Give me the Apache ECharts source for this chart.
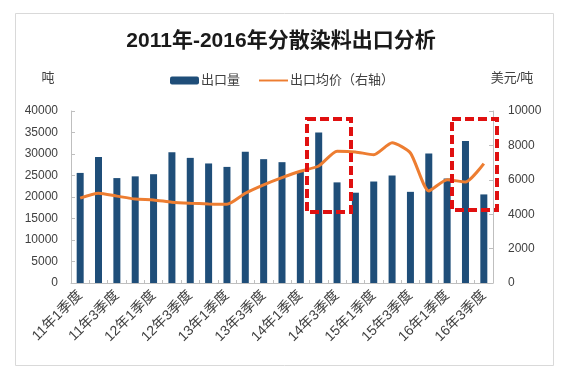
<!DOCTYPE html>
<html>
<head>
<meta charset="utf-8">
<script src="https://cdn.jsdelivr.net/npm/echarts@6/dist/echarts.min.js"></script>
<style>
html,body{margin:0;padding:0;background:#fff;}
#c{width:562px;height:372px;}
</style>
</head>
<body>
<div id="c"></div>
<script>
const categories = [
  '11年1季度','11年2季度','11年3季度','11年4季度',
  '12年1季度','12年2季度','12年3季度','12年4季度',
  '13年1季度','13年2季度','13年3季度','13年4季度',
  '14年1季度','14年2季度','14年3季度','14年4季度',
  '15年1季度','15年2季度','15年3季度','15年4季度',
  '16年1季度','16年2季度','16年3季度'
];
const exportVolume = [25600, 29300, 24400, 24800, 25300, 30400, 29100, 27800, 27000, 30500, 28800, 28100,
  26000, 35000, 23400, 21000, 23600, 25000, 21200, 30100, 24300, 33000, 20600];
const exportPrice = [4930, 5220, 5050, 4880, 4830, 4700, 4640, 4600, 4580, 5220, 5710, 6130,
  6500, 6800, 7660, 7620, 7460, 8160, 7560, 5350, 6010, 5870, 6940];
const leftTicks = [0, 40000, 5000];
const rightTicks = [0, 10000, 2000];

const txt = '#404040';
const axisGray = '#bfbfbf';
const fam = '"Liberation Sans","Noto Sans CJK SC",sans-serif';
const plain = v => String(v);

const chart = echarts.init(document.getElementById('c'));
chart.setOption({
  backgroundColor: '#ffffff',
  animation: false,
  textStyle: { fontFamily: fam },
  title: {
    text: '2011年-2016年分散染料出口分析',
    left: 'center',
    top: 26,
    textStyle: { fontSize: 21, fontWeight: 'bold', color: '#1a1a1a', fontFamily: fam }
  },
  legend: {
    left: 165,
    top: 69,
    itemWidth: 29,
    itemHeight: 8,
    itemGap: 19,
    textStyle: { fontSize: 13, color: txt, fontFamily: fam, padding: [0, 0, 0, -3] },
    data: [
      { name: '出口量' },
      { name: '出口均价（右轴）', icon: 'path://M0,0M0,3H30V5H0ZM30,8' }
    ]
  },
  grid: { left: 71, right: 69, top: 111, bottom: 89, containLabel: false },
  xAxis: {
    type: 'category',
    data: categories,
    boundaryGap: true,
    axisLine: { lineStyle: { color: axisGray } },
    axisTick: { show: true, inside: true, length: 3, interval: 0, lineStyle: { color: axisGray } },
    axisLabel: { interval: 1, rotate: 45, fontSize: 14, color: txt, margin: 10, fontFamily: fam }
  },
  yAxis: [
    {
      type: 'value',
      min: leftTicks[0], max: leftTicks[1], interval: leftTicks[2],
      name: '吨',
      nameLocation: 'end',
      nameGap: 33,
      nameTextStyle: { fontSize: 13, color: txt, align: 'center', verticalAlign: 'middle', padding: [0, 46, 0, 0] },
      splitLine: { show: false },
      axisLine: { show: true, lineStyle: { color: axisGray } },
      axisTick: { show: true, inside: true, length: 4, lineStyle: { color: axisGray } },
      axisLabel: { fontSize: 12, color: txt, margin: 13, fontFamily: fam, formatter: plain }
    },
    {
      type: 'value',
      min: rightTicks[0], max: rightTicks[1], interval: rightTicks[2],
      name: '美元/吨',
      nameLocation: 'end',
      nameGap: 33,
      nameTextStyle: { fontSize: 13, color: txt, align: 'center', verticalAlign: 'middle', padding: [0, 0, 0, 38] },
      splitLine: { show: false },
      axisLine: { show: true, lineStyle: { color: axisGray } },
      axisTick: { show: true, inside: true, length: 4, lineStyle: { color: axisGray } },
      axisLabel: { fontSize: 12, color: txt, margin: 15, fontFamily: fam, formatter: plain }
    }
  ],
  series: [
    {
      name: '出口量',
      type: 'bar',
      yAxisIndex: 0,
      data: exportVolume,
      barWidth: 7,
      itemStyle: { color: '#1f4e79' }
    },
    {
      name: '出口均价（右轴）',
      type: 'line',
      yAxisIndex: 1,
      data: exportPrice,
      symbol: 'none',
      smooth: 0.2,
      lineStyle: { color: '#ed7d31', width: 3 },
      itemStyle: { color: '#ed7d31' }
    }
  ],
  graphic: [
    { type: 'rect', left: 13, top: 11, shape: { x: 0, y: 0, width: 538, height: 352 },
      style: { fill: 'none', stroke: '#d9d9d9', lineWidth: 1 }, silent: true, z: -1 },
    { type: 'rect', shape: { x: 307, y: 119, width: 44, height: 93 },
      style: { fill: 'none', stroke: '#e01010', lineWidth: 4, lineDash: [9, 4] }, silent: true, z: 100 },
    { type: 'rect', shape: { x: 452, y: 119, width: 45, height: 91 },
      style: { fill: 'none', stroke: '#e01010', lineWidth: 4, lineDash: [9, 4] }, silent: true, z: 100 }
  ]
});
</script>
</body>
</html>
